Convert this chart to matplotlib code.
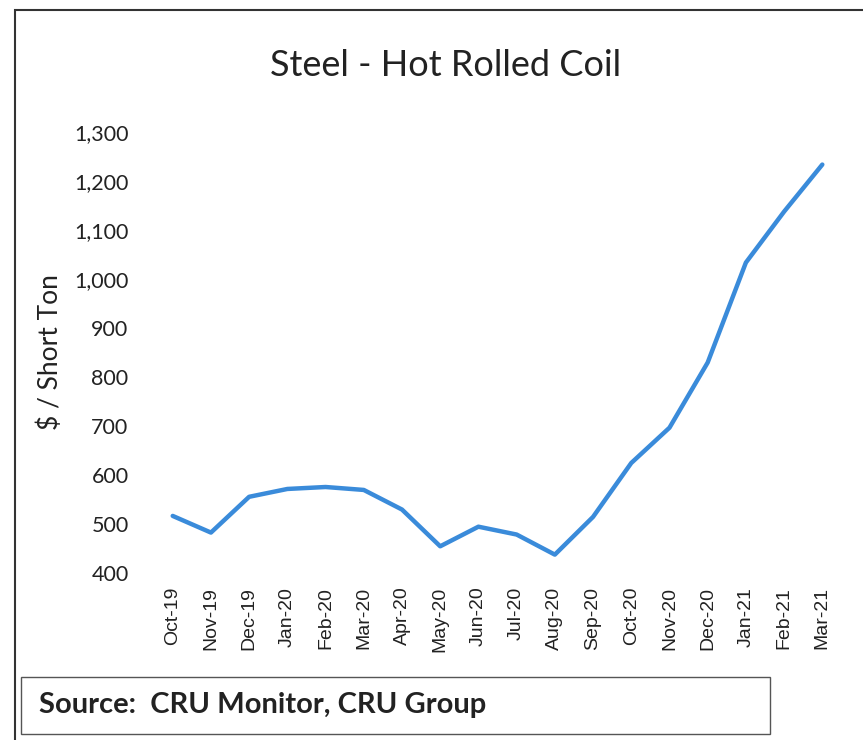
import numpy as np
import matplotlib.pyplot as plt
from matplotlib.patches import Rectangle
from matplotlib.ticker import FuncFormatter

months = ['Oct-19','Nov-19','Dec-19','Jan-20','Feb-20','Mar-20','Apr-20','May-20','Jun-20',
          'Jul-20','Aug-20','Sep-20','Oct-20','Nov-20','Dec-20','Jan-21','Feb-21','Mar-21']
price = [516, 482, 555, 571, 575, 569, 529, 454, 494, 478, 437, 514, 624, 696, 829, 1033, 1137, 1233]
yticks = [400, 500, 600, 700, 800, 900, 1000, 1100, 1200, 1300]

fig = plt.figure(figsize=(8.63, 7.40), dpi=100)
ax = fig.add_axes([0.178, 0.226, 0.797, 0.596])

x = np.arange(len(months))
ax.plot(x, price, color='#3A8BDA', linewidth=3.2, solid_joinstyle='round', solid_capstyle='round')

ax.set_xlim(-0.5, len(months) - 0.5)
ax.set_ylim(400, 1300)
ax.set_yticks(yticks)
ax.yaxis.set_major_formatter(FuncFormatter(lambda v, p: '{:,.0f}'.format(v)))
ax.set_xticks(x)
ax.set_xticklabels(months, rotation=90, fontsize=14, family='Liberation Sans', color='#222222')
for lab in ax.get_yticklabels():
    lab.set_fontsize(15.5)
    lab.set_family('Lato')
    lab.set_color('#222222')
ax.tick_params(axis='y', length=0, pad=18)
ax.tick_params(axis='x', length=0, pad=10)
for s in ax.spines.values():
    s.set_visible(False)

ax.set_ylabel('$ / Short Ton', fontsize=19, family='Lato', color='#222222', labelpad=8)
fig.text(0.516, 0.912, 'Steel - Hot Rolled Coil', ha='center', va='center',
         fontsize=26, family='Lato', color='#222222')

# outer frame and source box
fig.patches.append(Rectangle((0.017, -0.01), 1.0, 0.997, transform=fig.transFigure,
                             fill=False, edgecolor='#333333', linewidth=1.5))
fig.patches.append(Rectangle((0.024, 0.008), 0.868, 0.077, transform=fig.transFigure,
                             fill=False, edgecolor='#555555', linewidth=1.0))
fig.text(0.045, 0.047, 'Source:  CRU Monitor, CRU Group', ha='left', va='center',
         fontsize=21, family='Lato', fontweight='bold', color='#222222')

plt.savefig('out.png', dpi=100)
